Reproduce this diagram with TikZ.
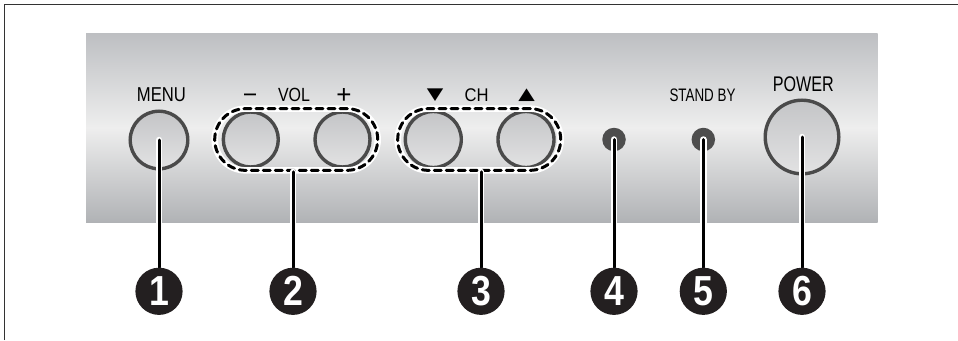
\documentclass[tikz,border=0pt]{standalone}
\usepackage{fontspec}
\usepackage{graphicx}
\setmainfont{Liberation Sans}
\newfontfamily\dejavu{DejaVu Sans}
\newcommand\lbl[3]{\resizebox*{#1}{#2}{#3}}
\definecolor{panelTop}{HTML}{BDBFC2}
\definecolor{panelMid}{HTML}{EEEEEE}
\definecolor{panelBot}{HTML}{B0B2B5}
\definecolor{btnEdge}{HTML}{4A4A4A}
\definecolor{btnTop}{HTML}{C4C5C7}
\definecolor{btnBot}{HTML}{E2E2E3}
\definecolor{ledC}{HTML}{4D4D4D}
\definecolor{numC}{HTML}{231F20}
\definecolor{frameC}{HTML}{333333}
\pgfdeclarelayer{front}
\pgfsetlayers{main,front}
\begin{document}
\begin{tikzpicture}[x=1pt,y=-1pt,
  panel/.style={rectangle, inner sep=0, minimum width=791.7pt, minimum height=189.7pt,
    top color=panelTop, bottom color=panelBot, middle color=panelMid},
  btn/.style={circle, inner sep=0, draw=btnEdge, line width=3.4pt,
    top color=btnTop, bottom color=btnBot},
  led/.style={circle, inner sep=0, fill=ledC, minimum size=23.5pt},
  grp/.style={rectangle, inner sep=0, rounded corners=30.8pt, minimum width=163pt,
    minimum height=61.7pt, draw=black, line width=3pt, dash pattern=on 7pt off 5pt,
    line cap=round, preaction={draw=white, line width=6.5pt, solid}},
  lead/.style={draw=black, line width=3pt, line cap=round,
    preaction={draw=white, line width=6.5pt, line cap=round}},
  num/.style={circle, inner sep=0, fill=numC, minimum size=47.2pt, text=white,
    font=\fontsize{42}{42}\selectfont\bfseries},
  lab/.style={inner sep=0, anchor=south, text=black},
  frameline/.style={draw=frameC, line width=1.6pt}
]
\path[use as bounding box] (0,0) rectangle (958,340);
\fill[white] (0,0) rectangle (958,340);
\coordinate (fa) at (4.5,340);
\coordinate (fb) at (4.5,4.5);
\coordinate (fc) at (958,4.5);
\draw[frameline] (fa) -- (fb) -- (fc);

% panel
\node[panel] (panel) at (481.85,127.85) {};

% labels
\node[lab] (tmenu) at (161.5,101.7) {\lbl{49pt}{14pt}{MENU}};
\node[inner sep=0, anchor=base, font=\fontsize{26}{26}\selectfont] (tminus) at (250,101.2) {\scalebox{0.83}[1]{–}};
\node[lab] (tvol) at (294,101.7) {\lbl{32pt}{13.5pt}{VOL}};
\node[inner sep=0, anchor=base, font=\fontsize{26}{26}\selectfont] (tplus) at (344,103.2) {+};
\node[lab] (tdown) at (435,101.7) {\lbl{16.5pt}{12.7pt}{\dejavu ▼}};
\node[lab] (tch) at (476.7,101.7) {\lbl{24pt}{13pt}{CH}};
\node[lab] (tup) at (526.7,101.7) {\lbl{16.5pt}{12.7pt}{\dejavu ▲}};
\node[lab] (tstand) at (702.5,101.7) {\lbl{66pt}{12.8pt}{STAND BY}};
\node[lab] (tpower) at (803.3,91.7) {\lbl{61pt}{15pt}{POWER}};

% buttons and lamps
\node[btn, minimum size=57.6pt] (b1) at (159,140) {};
\node[btn, minimum size=55pt] (bvm) at (250.8,139.5) {};
\node[btn, minimum size=55pt] (bvp) at (342.5,139.5) {};
\node[btn, minimum size=56pt] (bcd) at (433.3,139.5) {};
\node[btn, minimum size=56pt] (bcu) at (526,139.5) {};
\node[led] (l4) at (614,139.5) {};
\node[led] (l5) at (703.3,139.5) {};
\node[btn, minimum size=73.6pt] (b6) at (802,137) {};

% dashed groups
\node[grp] (g2) at (296.2,139.5) {};
\node[grp] (g3) at (479.2,139.5) {};

% number circles (front layer, over the leader lines)
\begin{pgfonlayer}{front}
\node[num] (n1) at (159,291.3) {\scalebox{0.85}[1]{1}};
\node[num] (n2) at (293,291.3) {\scalebox{0.85}[1]{2}};
\node[num] (n3) at (481,291.3) {\scalebox{0.85}[1]{3}};
\node[num] (n4) at (614,291.3) {\scalebox{0.85}[1]{4}};
\node[num] (n5) at (703.3,291.3) {\scalebox{0.85}[1]{5}};
\node[num] (n6) at (802,291.3) {\scalebox{0.85}[1]{6}};
\end{pgfonlayer}

% leader lines
\draw[lead] (b1.center) -- (n1.north);
\draw[lead] (n2.north |- g2.south) -- (n2.north);
\draw[lead] (n3.north |- g3.south) -- (n3.north);
\draw[lead] (l4.center) -- (n4.north);
\draw[lead] (l5.center) -- (n5.north);
\draw[lead] (b6.center) -- (n6.north);
\end{tikzpicture}
\end{document}
